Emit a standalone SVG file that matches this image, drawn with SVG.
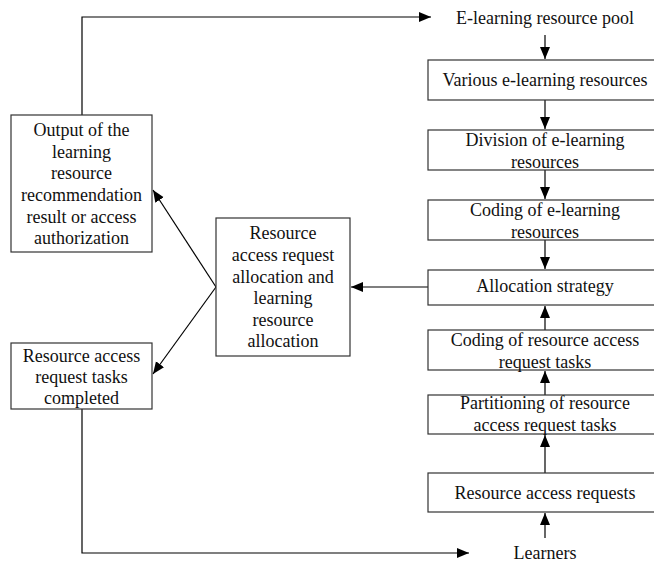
<svg xmlns="http://www.w3.org/2000/svg" width="654" height="563" viewBox="0 0 654 563">
<style>
.box{fill:#fff;stroke:#333;stroke-width:1.2}
.t text{font-size:18px;fill:#111;text-anchor:middle}
.c{fill:none;stroke:#000;stroke-width:1.2}
</style>
<defs>
<marker id="ah" markerUnits="userSpaceOnUse" markerWidth="13" markerHeight="11" refX="12" refY="5" orient="auto">
<path d="M0,0 L12,5 L0,10 z" fill="#000"/>
</marker>
</defs>
<rect width="654" height="563" fill="#fff"/>
<g id="connectors">
<path class="c" d="M82,115 V17 H431" marker-end="url(#ah)"/>
<path class="c" d="M545,35 V59" marker-end="url(#ah)"/>
<path class="c" d="M545,100 V129" marker-end="url(#ah)"/>
<path class="c" d="M545,170 V199" marker-end="url(#ah)"/>
<path class="c" d="M545,240 V269" marker-end="url(#ah)"/>
<path class="c" d="M545,330 V306" marker-end="url(#ah)"/>
<path class="c" d="M545,395 V371" marker-end="url(#ah)"/>
<path class="c" d="M545,473 V435" marker-end="url(#ah)"/>
<path class="c" d="M545,538 V513" marker-end="url(#ah)"/>
<path class="c" d="M428,287 H351" marker-end="url(#ah)"/>
<path class="c" d="M216,287 L153,190" marker-end="url(#ah)"/>
<path class="c" d="M216,287 L153,374" marker-end="url(#ah)"/>
<path class="c" d="M82,409 V553 H469" marker-end="url(#ah)"/>
</g>
<g class="t" font-family="'Liberation Serif', 'DejaVu Serif', 'Times New Roman', serif">
<g id="pool"><text x="545" y="24">E-learning resource pool</text></g>
<g id="various"><rect class="box" x="428" y="60" width="234" height="40"/><text x="545" y="86">Various e-learning resources</text></g>
<g id="division"><rect class="box" x="428" y="130" width="234" height="40"/><text x="545" y="146">Division of e-learning</text><text x="545" y="168">resources</text></g>
<g id="coding-res"><rect class="box" x="428" y="200" width="234" height="40"/><text x="545" y="216">Coding of e-learning</text><text x="545" y="238">resources</text></g>
<g id="strategy"><rect class="box" x="428" y="270" width="234" height="35"/><text x="545" y="292">Allocation strategy</text></g>
<g id="coding-req"><rect class="box" x="428" y="330" width="234" height="40"/><text x="545" y="346">Coding of resource access</text><text x="545" y="368">request tasks</text></g>
<g id="partition"><rect class="box" x="428" y="395" width="234" height="39"/><text x="545" y="409">Partitioning of resource</text><text x="545" y="431">access request tasks</text></g>
<g id="requests"><rect class="box" x="428" y="473" width="234" height="39"/><text x="545" y="499">Resource access requests</text></g>
<g id="learners"><text x="545" y="559">Learners</text></g>
<g id="allocation"><rect class="box" x="216" y="218" width="134" height="138"/>
<text x="283" y="239">Resource</text><text x="283" y="261">access request</text><text x="283" y="283">allocation and</text><text x="283" y="304">learning</text><text x="283" y="326">resource</text><text x="283" y="347">allocation</text></g>
<g id="output"><rect class="box" x="11" y="115" width="141" height="137"/>
<text x="81.5" y="136">Output of the</text><text x="81.5" y="158">learning</text><text x="81.5" y="179">resource</text><text x="81.5" y="201">recommendation</text><text x="81.5" y="223">result or access</text><text x="81.5" y="244">authorization</text></g>
<g id="completed"><rect class="box" x="11" y="343" width="141" height="66"/>
<text x="81.5" y="362">Resource access</text><text x="81.5" y="383">request tasks</text><text x="81.5" y="404">completed</text></g>
</g>
</svg>
